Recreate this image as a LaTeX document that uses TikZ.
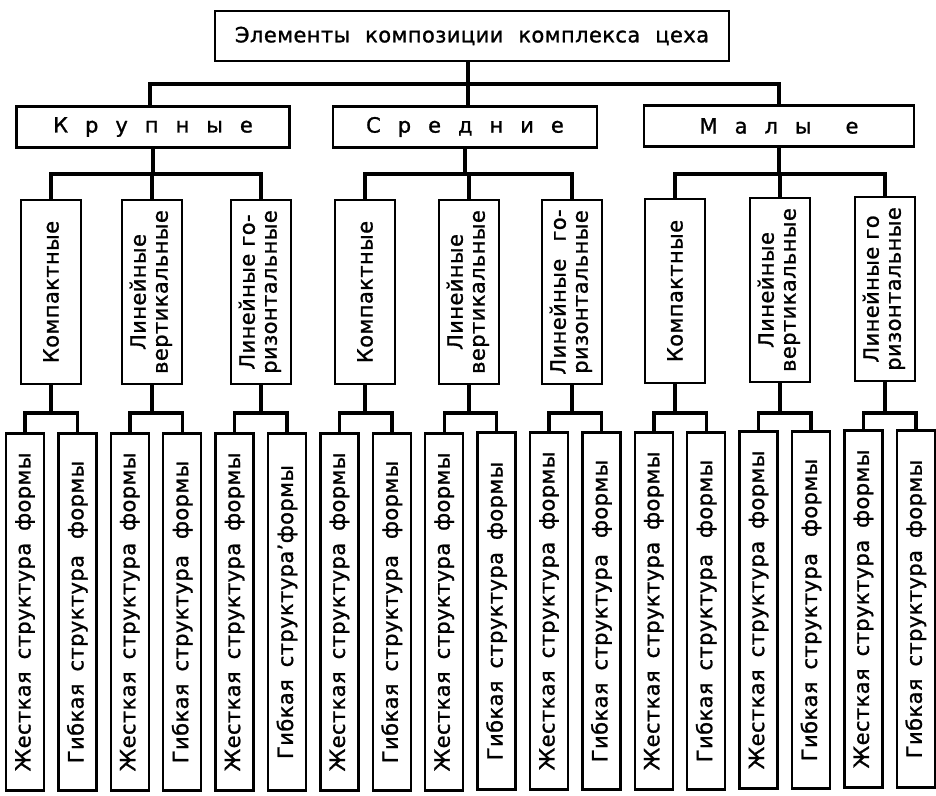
\documentclass[tikz,border=0pt]{standalone}
\usepackage{fontspec}
\setmainfont{DejaVu Sans}[LetterSpace=2, FakeBold=1.2]
\usepackage{graphicx}
\newcommand\myvt[1]{\rotatebox{90}{#1}}
\newcommand\myvtt[2]{\rotatebox{90}{\begin{tabular}{@{}c@{}}#1\\#2\end{tabular}}}
\newcommand\gap{\hspace{17pt}}
\newcommand\ws{\hspace{12pt}}
\begin{document}
\begin{tikzpicture}[x=1pt,y=-1pt,
  box/.style={draw, line width=2.4pt, inner sep=0pt, align=center,
              font=\fontsize{21}{22}\selectfont},
  topbox/.style={box, minimum width=514pt, minimum height=50pt},
  grpbox/.style={box, minimum width=268pt, minimum height=41pt},
  kindbox/.style={box, minimum width=60pt, minimum height=184pt},
  leafbox/.style={box, minimum width=38pt, minimum height=357pt},
  conn/.style={line width=3.4pt, line join=miter}]
\useasboundingbox (0,0) rectangle (936,795);

\node[topbox] (top) at (472,36) {Элементы\hspace{15pt}композиции\hspace{15pt}комплекса\hspace{15pt}цеха};

\node[grpbox, minimum width=273pt] (G1) at (153,127) {К\gap р\gap у\gap п\gap н\gap ы\gap е};
\node[grpbox, minimum width=264pt] (G2) at (465,127) {С\gap р\gap е\gap д\gap н\gap и\gap е};
\node[grpbox, minimum width=270pt] (G3) at (779,126) {М\gap а\gap л\gap ы\hspace{34pt}е};

\node[kindbox] (K1) at (51,292)  {\myvt{Компактные}};
\node[kindbox] (K2) at (152,292) {\myvtt{Линейные}{вертикальные}};
\node[kindbox] (K3) at (261,292) {\myvtt{Линейные го-}{ризонтальные}};
\node[kindbox] (K4) at (365,292) {\myvt{Компактные}};
\node[kindbox] (K5) at (469,292) {\myvtt{Линейные}{вертикальные}};
\node[kindbox] (K6) at (572,292) {\myvtt{Линейные\hspace{10pt} го-}{ризонтальные}};
\node[kindbox] (K7) at (675,291) {\myvt{Компактные}};
\node[kindbox] (K8) at (780,290) {\myvtt{Линейные}{вертикальные}};
\node[kindbox] (K9) at (885,289) {\myvtt{Линейные го}{ризонтальные}};

\node[leafbox] (L1)  at (25.0,612)  {\myvt{Жесткая\ws структура\ws формы}};
\node[leafbox] (L2)  at (77.4,612)  {\myvt{Гибкая\ws структура\hspace{16pt}формы}};
\node[leafbox] (L3)  at (129.8,612) {\myvt{Жесткая\ws структура\ws формы}};
\node[leafbox] (L4)  at (182.2,612) {\myvt{Гибкая\ws структура\hspace{16pt}формы}};
\node[leafbox] (L5)  at (234.6,612) {\myvt{Жесткая\ws структура\ws формы}};
\node[leafbox] (L6)  at (287.0,612) {\myvt{Гибкая\ws структура’формы}};
\node[leafbox] (L7)  at (339.4,612) {\myvt{Жесткая\ws структура\ws формы}};
\node[leafbox] (L8)  at (391.8,612) {\myvt{Гибкая\ws структура\hspace{16pt}формы}};
\node[leafbox] (L9)  at (444.2,612) {\myvt{Жесткая\ws структура\ws формы}};
\node[leafbox] (L10) at (496.6,611) {\myvt{Гибкая\ws структура\ws формы}};
\node[leafbox] (L11) at (549.0,611) {\myvt{Жесткая\ws структура\ws формы}};
\node[leafbox] (L12) at (601.4,611) {\myvt{Гибкая\ws структура\hspace{16pt}формы}};
\node[leafbox] (L13) at (653.8,611) {\myvt{Жесткая\ws структура\ws формы}};
\node[leafbox] (L14) at (706.2,611) {\myvt{Гибкая\ws структура\hspace{16pt}формы}};
\node[leafbox] (L15) at (758.6,610) {\myvt{Жесткая\ws структура\ws формы}};
\node[leafbox] (L16) at (811.0,610) {\myvt{Гибкая\ws структура\hspace{16pt}формы}};
\node[leafbox] (L17) at (863.4,609) {\myvt{Жесткая\ws структура\ws формы}};
\node[leafbox] (L18) at (915.8,609) {\myvt{Гибкая\ws структура\ws формы}};

% top -> groups
\draw[conn] (top.south -| 468,0) -- (468,84) -| (G1.north -| 150,0);
\draw[conn] (468,84) -- (G2.north -| 468,0);
\draw[conn] (468,84) -| (G3.north);

% groups -> kinds
\foreach \g/\a/\b/\c in {G1/K1/K2/K3, G2/K4/K5/K6, G3/K7/K8/K9}{
  \draw[conn] (\g.south) -- (\g.south |- 0,174) -| (\a.north);
  \draw[conn] (\g.south |- 0,174) -| (\c.north);
  \draw[conn] (\g.south |- 0,174) -| (\b.north);
}

% kinds -> leaves
\foreach \k/\a/\b in {K1/L1/L2, K2/L3/L4, K3/L5/L6, K4/L7/L8, K5/L9/L10,
                      K6/L11/L12, K7/L13/L14, K8/L15/L16, K9/L17/L18}{
  \draw[conn] (\k.south) -- (\k.south |- 0,413) -| (\a.north);
  \draw[conn] (\k.south |- 0,413) -| (\b.north);
}
\end{tikzpicture}
\end{document}
